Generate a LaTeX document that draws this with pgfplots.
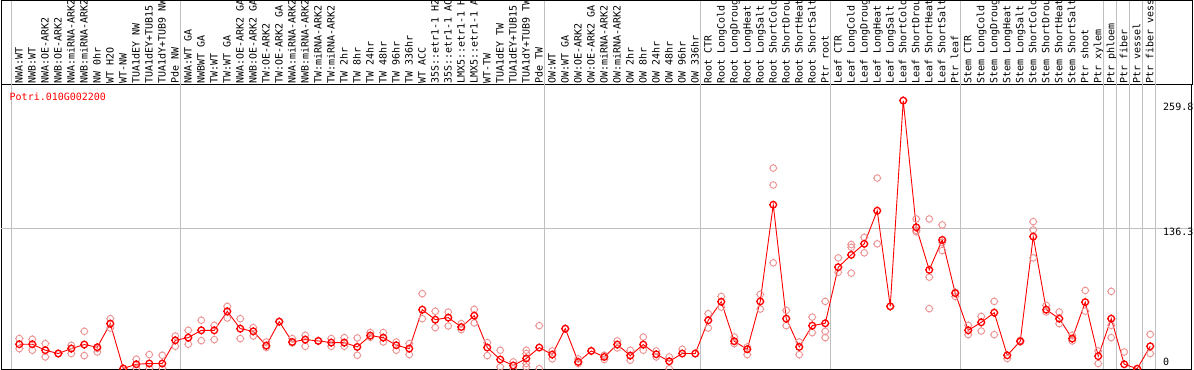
\documentclass[border=0pt]{standalone}
\usepackage{pgfplots}
\pgfplotsset{compat=1.18}
\usepackage{fontspec}
\setmainfont{DejaVu Sans Mono}
\definecolor{pinkc}{RGB}{236,145,145}
\definecolor{gridc}{RGB}{192,192,192}
\pgfdeclareplotmark{tcirc}{%
  \pgfpathcircle{\pgfpointorigin}{3.3bp}%
  \pgfpathmoveto{\pgfpoint{0bp}{3.3bp}}\pgfpathlineto{\pgfpoint{0bp}{4.2bp}}%
  \pgfpathmoveto{\pgfpoint{0bp}{-3.3bp}}\pgfpathlineto{\pgfpoint{0bp}{-4.2bp}}%
  \pgfpathmoveto{\pgfpoint{3.3bp}{0bp}}\pgfpathlineto{\pgfpoint{4.2bp}{0bp}}%
  \pgfpathmoveto{\pgfpoint{-3.3bp}{0bp}}\pgfpathlineto{\pgfpoint{-4.2bp}{0bp}}%
  \pgfusepathqstroke}
\pgfplotstableread{
x y
0 23.7
1 23.7
2 17.9
3 14.7
4 19.5
5 23.4
6 20.8
7 43.7
8 0.2
9 4.3
10 5.0
11 5.0
12 27.5
13 30.1
14 37.2
15 37.2
16 55.6
17 38.8
18 36.2
19 22.4
20 45.6
21 25.9
22 28.2
23 26.9
24 25.3
25 25.3
26 21.1
27 32.1
28 30.1
29 22.7
30 19.5
31 57.2
32 47.5
33 49.5
34 40.4
35 51.4
36 20.5
37 8.9
38 3.1
39 9.9
40 20.5
41 13.7
42 38.8
43 6.6
44 17.2
45 11.4
46 23.4
47 12.7
48 23.4
49 14.0
50 7.2
51 14.7
52 14.7
53 46.9
54 64.9
55 26.6
56 18.8
57 65.2
58 158.9
59 48.5
60 21.1
61 41.7
62 44.0
63 98.4
64 110.3
65 121.0
66 153.1
67 60.4
68 259.8
69 137.0
70 95.8
71 124.8
72 73.2
73 37.2
74 44.9
75 54.3
76 13.0
77 26.6
78 128.0
79 57.2
80 48.5
81 29.2
82 64.5
83 12.1
84 48.5
85 4.3
86 0.0
87 21.7
}\means
\pgfplotstableread{
x y
0 29.2
0 19.5
1 28.5
1 17.9
2 24.3
2 11.4
3 14.7
4 22.7
4 14.7
5 36.2
5 12.7
6 16.2
6 19.6
7 48.5
7 39.4
8 0.2
9 9.2
9 0.2
10 13.7
10 0.2
11 13.0
11 0.2
12 31.7
12 21.7
13 37.2
13 23.7
14 46.9
14 27.2
15 42.0
15 28.2
16 60.4
16 49.1
17 48.5
17 29.2
18 39.8
18 31.7
19 25.9
19 20.5
20 45.6
21 29.2
21 24.9
22 32.4
22 21.7
23 27.0
24 29.2
24 21.7
25 30.1
25 21.7
26 29.8
26 13.0
27 35.0
27 30.4
28 35.0
28 25.9
29 25.9
29 17.9
30 24.3
30 13.7
31 72.7
31 48.5
32 55.6
32 39.8
33 54.9
33 41.4
34 43.7
34 37.9
35 57.5
35 44.3
36 25.3
36 12.7
37 17.9
37 1.7
38 6.6
38 0.0
39 17.9
39 14.7
39 5.0
39 1.7
40 41.7
40 0.0
41 17.2
41 9.5
42 38.8
43 9.5
43 5.0
44 17.2
45 13.0
45 8.9
46 26.9
46 20.1
47 17.9
47 8.2
48 30.7
48 17.9
49 17.2
49 11.4
50 11.4
50 0.0
51 18.8
52 14.7
53 53.3
53 39.4
54 70.0
54 59.7
55 30.7
55 24.3
56 21.1
56 13.7
57 72.0
57 57.8
58 194.4
58 178.0
58 102.6
59 56.5
59 41.7
60 25.9
60 13.7
61 50.0
61 35.0
62 65.2
62 36.2
62 30.1
63 107.4
63 93.5
64 120.3
64 117.7
64 92.6
65 127.3
65 112.3
66 184.7
66 121.0
67 60.4
68 259.8
69 145.1
69 134.0
69 132.6
70 145.1
70 88.7
70 58.2
71 139.3
71 122.5
71 114.5
72 74.2
72 70.0
73 42.0
73 33.0
74 50.7
74 36.5
75 65.2
75 33.0
76 9.9
77 27.5
77 25.9
78 142.5
78 134.5
78 107.4
79 61.4
79 54.9
80 54.9
80 43.7
81 32.4
81 26.9
82 75.8
82 55.8
83 17.2
83 5.0
84 74.9
84 42.0
84 30.1
85 16.2
86 0.0
87 33.3
87 14.7
}\reps
\begin{document}
\begin{tikzpicture}
\begin{axis}[
  at={(0,0)}, anchor=south west,
  scale only axis, width=1191bp, height=284bp,
  xmin=-1.408, xmax=90.21, ymin=-0.29, ymax=274.9,
  clip=false,
  axis line style={line width=1bp, black},
  ytick=\empty,
  xtick={0,...,87},
  xtick pos=right, xticklabel pos=right,
  major tick length=0pt,
  xticklabel shift=1.5bp,
  xticklabel style={rotate=90, anchor=west, inner sep=0pt,
    text height=6.5bp, text depth=0bp,
    font=\fontsize{10bp}{10bp}\selectfont},
  xticklabels={NWA:WT,NWB:WT,NWA:OE-ARK2,NWB:OE-ARK2,NWA:miRNA-ARK2,NWB:miRNA-ARK2,NW 0hr,WT H2O,WT-NW,TUA1dEY NW,TUA1dEY+TUB15,TUA1dY+TUB9 NW,Pde NW,
    NWA:WT GA,NWBWT GA,TW:WT,TW:WT GA,NWA:OE-ARK2 GA,NWB:OE-ARK2 GA,TW:OE-ARK2,TW:OE-ARK2 GA,NWA:miRNA-ARK2,NWB:miRNA-ARK2,TW:miRNA-ARK2,TW:miRNA-ARK2,TW 2hr,TW 8hr,TW 24hr,TW 48hr,TW 96hr,TW 336hr,WT ACC,35S::etr1-1 H2,35S::etr1-1 AC,LMX5::etr1-1 H,LMX5::etr1-1 A,WT-TW,TUA1dEY TW,TUA1dEY+TUB15,TUA1dY+TUB9 TW,Pde TW,
    OW:WT,OW:WT GA,OW:OE-ARK2,OW:OE-ARK2 GA,OW:miRNA-ARK2,OW:miRNA-ARK2,OW 2hr,OW 8hr,OW 24hr,OW 48hr,OW 96hr,OW 336hr,
    Root CTR,Root LongCold,Root LongDroug,Root LongHeat,Root LongSalt,Root ShortCold,Root ShortDrou,Root ShortHeat,Root ShortSalt,Ptr root,
    Leaf CTR,Leaf LongCold,Leaf LongDroug,Leaf LongHeat,Leaf LongSalt,Leaf ShortCold,Leaf ShortDrou,Leaf ShortHeat,Leaf ShortSalt,Ptr leaf,
    Stem CTR,Stem LongCold,Stem LongDroug,Stem LongHeat,Stem LongSalt,Stem ShortCold,Stem ShortDrou,Stem ShortHeat,Stem ShortSalt,Ptr shoot,Ptr xylem,
    Ptr phloem,Ptr fiber,Ptr vessel,Ptr fiber vess},
]
\foreach \g in {-0.62,12.38,40.38,52.38,62.38,72.38,83.38,84.38,85.38,86.38,87.38}{
  \edef\temp{\noexpand\draw[gridc, line width=1bp] (axis cs:\g,-0.29) -- (axis cs:\g,400);}
  \temp
}
\draw[gridc, line width=1bp] (axis cs:-1.408,136.3) -- (axis cs:90.21,136.3);
\addplot[only marks, mark=tcirc, pinkc, mark options={line width=0.9bp}] table[x=x,y=y] {\reps};
\addplot[red, line width=0.9bp, mark=tcirc, mark options={line width=1.3bp, solid}] table[x=x,y=y] {\means};
\end{axis}
\draw[line width=1bp] (0,284bp) -- (0,368.5bp) -- (1191bp,368.5bp) -- (1191bp,284bp);
\node[anchor=west, inner sep=0pt, red, font=\fontsize{10bp}{10bp}\selectfont] at (8.5bp,272.5bp) {Potri.010G002200};
\node[anchor=west, inner sep=0pt, font=\fontsize{10bp}{10bp}\selectfont] at (1162bp,262.3bp) {259.8};
\node[anchor=west, inner sep=0pt, font=\fontsize{10bp}{10bp}\selectfont] at (1162bp,136.7bp) {136.3};
\node[anchor=west, inner sep=0pt, font=\fontsize{10bp}{10bp}\selectfont] at (1162bp,6.7bp) {0};
\pgfresetboundingbox
\path[use as bounding box] (-1bp,-1bp) rectangle (1193bp,369bp);
\end{tikzpicture}
\end{document}
